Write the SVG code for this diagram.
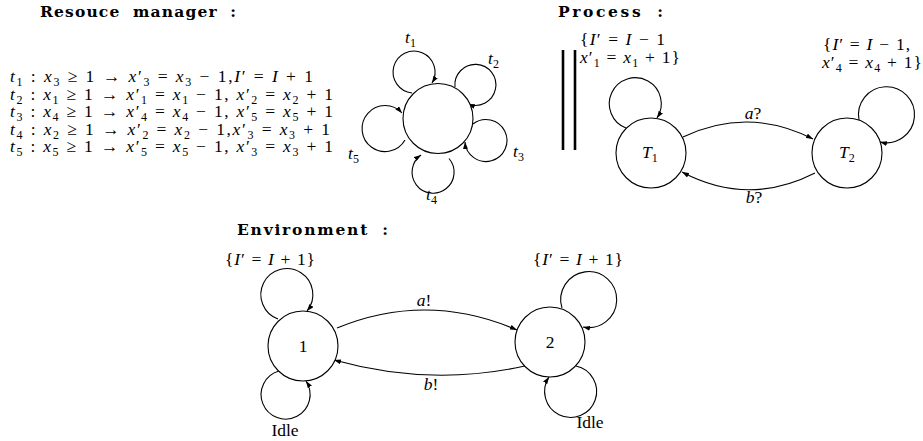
<svg xmlns="http://www.w3.org/2000/svg" width="923" height="441" viewBox="0 0 923 441">
<style>
text { font-family: "Liberation Serif", "DejaVu Serif", serif; fill: #000; }
.m { font-size: 17.5px; word-spacing: 0.5px; }
.t { font-family: "DejaVu Serif", "Liberation Serif", serif; font-size: 15.5px; font-weight: bold; word-spacing: 6px; }
.i { font-style: italic; }
.s { font-size: 12px; }
.n { fill: #fff; stroke: #000; stroke-width: 1.1; }
.e { fill: none; stroke: #000; stroke-width: 1.1; marker-end: url(#ah); }
.bar { stroke: #000; stroke-width: 2.6; }
</style>
<defs>
<marker id="ah" viewBox="0 0 7 5" refX="7" refY="2.5" markerWidth="7" markerHeight="5" markerUnits="userSpaceOnUse" orient="auto">
<path d="M0,0 L7,2.5 L0,5 z" fill="#000"/>
</marker>
</defs>

<!-- titles -->
<g id="titles">
<text class="t" x="40" y="17" textLength="196" lengthAdjust="spacing">Resouce manager :</text>
<text class="t" x="558" y="17" textLength="105" lengthAdjust="spacing">Process :</text>
<text class="t" x="237" y="235" textLength="151" lengthAdjust="spacing">Environment :</text>
</g>

<!-- resource manager equations -->
<g id="equations">
<text class="m" x="10" y="82" textLength="303" lengthAdjust="spacing"><tspan class="i">t</tspan><tspan class="s" dy="4">1</tspan><tspan dy="-4"> : </tspan><tspan class="i">x</tspan><tspan class="s" dy="4">3</tspan><tspan dy="-4"> ≥ 1 → </tspan><tspan class="i">x</tspan>′<tspan class="s" dy="4">3</tspan><tspan dy="-4"> = </tspan><tspan class="i">x</tspan><tspan class="s" dy="4">3</tspan><tspan dy="-4"> − 1,</tspan><tspan class="i">I</tspan>′ = <tspan class="i">I</tspan> + 1</text>
<text class="m" x="10" y="99.5" textLength="323" lengthAdjust="spacing"><tspan class="i">t</tspan><tspan class="s" dy="4">2</tspan><tspan dy="-4"> : </tspan><tspan class="i">x</tspan><tspan class="s" dy="4">1</tspan><tspan dy="-4"> ≥ 1 → </tspan><tspan class="i">x</tspan>′<tspan class="s" dy="4">1</tspan><tspan dy="-4"> = </tspan><tspan class="i">x</tspan><tspan class="s" dy="4">1</tspan><tspan dy="-4"> − 1, </tspan><tspan class="i">x</tspan>′<tspan class="s" dy="4">2</tspan><tspan dy="-4"> = </tspan><tspan class="i">x</tspan><tspan class="s" dy="4">2</tspan><tspan dy="-4"> + 1</tspan></text>
<text class="m" x="10" y="117" textLength="323" lengthAdjust="spacing"><tspan class="i">t</tspan><tspan class="s" dy="4">3</tspan><tspan dy="-4"> : </tspan><tspan class="i">x</tspan><tspan class="s" dy="4">4</tspan><tspan dy="-4"> ≥ 1 → </tspan><tspan class="i">x</tspan>′<tspan class="s" dy="4">4</tspan><tspan dy="-4"> = </tspan><tspan class="i">x</tspan><tspan class="s" dy="4">4</tspan><tspan dy="-4"> − 1, </tspan><tspan class="i">x</tspan>′<tspan class="s" dy="4">5</tspan><tspan dy="-4"> = </tspan><tspan class="i">x</tspan><tspan class="s" dy="4">5</tspan><tspan dy="-4"> + 1</tspan></text>
<text class="m" x="10" y="134.5" textLength="320" lengthAdjust="spacing"><tspan class="i">t</tspan><tspan class="s" dy="4">4</tspan><tspan dy="-4"> : </tspan><tspan class="i">x</tspan><tspan class="s" dy="4">2</tspan><tspan dy="-4"> ≥ 1 → </tspan><tspan class="i">x</tspan>′<tspan class="s" dy="4">2</tspan><tspan dy="-4"> = </tspan><tspan class="i">x</tspan><tspan class="s" dy="4">2</tspan><tspan dy="-4"> − 1,</tspan><tspan class="i">x</tspan>′<tspan class="s" dy="4">3</tspan><tspan dy="-4"> = </tspan><tspan class="i">x</tspan><tspan class="s" dy="4">3</tspan><tspan dy="-4"> + 1</tspan></text>
<text class="m" x="10" y="152" textLength="323" lengthAdjust="spacing"><tspan class="i">t</tspan><tspan class="s" dy="4">5</tspan><tspan dy="-4"> : </tspan><tspan class="i">x</tspan><tspan class="s" dy="4">5</tspan><tspan dy="-4"> ≥ 1 → </tspan><tspan class="i">x</tspan>′<tspan class="s" dy="4">5</tspan><tspan dy="-4"> = </tspan><tspan class="i">x</tspan><tspan class="s" dy="4">5</tspan><tspan dy="-4"> − 1, </tspan><tspan class="i">x</tspan>′<tspan class="s" dy="4">3</tspan><tspan dy="-4"> = </tspan><tspan class="i">x</tspan><tspan class="s" dy="4">3</tspan><tspan dy="-4"> + 1</tspan></text>
</g>

<!-- parallel composition bars -->
<g id="parallel">
<line class="bar" x1="563" y1="50" x2="563" y2="150"/>
<line class="bar" x1="575" y1="50" x2="575" y2="150"/>
</g>

<!-- connectors -->
<g id="connectors">
<path class="e" d="M412,93 A21,21 0 1 1 432,83"/>
<path class="e" d="M455,87 A20.5,20.5 0 1 1 468,104"/>
<path class="e" d="M473,124 A21,21 0 1 1 465,142"/>
<path class="e" d="M449,158.5 A21,21 0 1 1 421,155"/>
<path class="e" d="M405,140 A23,23 0 1 1 402,113"/>
<path class="e" d="M626,128 A26,26 0 1 1 657,118"/>
<path class="e" d="M859,120 A28,28 0 1 1 880,142"/>
<path class="e" d="M683,137 Q748,106 813,139"/>
<path class="e" d="M815,173 Q748,207 682,172"/>
<path class="e" d="M278,319 A26,26 0 1 1 307,311"/>
<path class="e" d="M279,371 A24.5,24.5 0 1 0 306,381"/>
<path class="e" d="M562,308 A28,28 0 1 1 583,327"/>
<path class="e" d="M576,366 A26,26 0 1 1 549,377"/>
<path class="e" d="M337,328 Q427,291 517,330"/>
<path class="e" d="M525,366 Q430,387 334,360"/>
</g>

<!-- connector labels -->
<g id="labels">
<text class="m" x="405" y="43"><tspan class="i">t</tspan><tspan class="s" dy="4">1</tspan></text>
<text class="m" x="488" y="64"><tspan class="i">t</tspan><tspan class="s" dy="4">2</tspan></text>
<text class="m" x="513" y="157"><tspan class="i">t</tspan><tspan class="s" dy="4">3</tspan></text>
<text class="m" x="426" y="200"><tspan class="i">t</tspan><tspan class="s" dy="4">4</tspan></text>
<text class="m" x="348" y="159"><tspan class="i">t</tspan><tspan class="s" dy="4">5</tspan></text>

<text class="m" x="580" y="45" textLength="85" lengthAdjust="spacing">{<tspan class="i">I</tspan>′ = <tspan class="i">I</tspan> − 1</text>
<text class="m" x="580" y="63" textLength="100" lengthAdjust="spacing"><tspan class="i">x</tspan>′<tspan class="s" dy="4">1</tspan><tspan dy="-4"> = </tspan><tspan class="i">x</tspan><tspan class="s" dy="4">1</tspan><tspan dy="-4"> + 1}</tspan></text>
<text class="m" x="823" y="50" textLength="87" lengthAdjust="spacing">{<tspan class="i">I</tspan>′ = <tspan class="i">I</tspan> − 1,</text>
<text class="m" x="822" y="68" textLength="100" lengthAdjust="spacing"><tspan class="i">x</tspan>′<tspan class="s" dy="4">4</tspan><tspan dy="-4"> = </tspan><tspan class="i">x</tspan><tspan class="s" dy="4">4</tspan><tspan dy="-4"> + 1}</tspan></text>
<text class="m i" x="753" y="119" text-anchor="middle">a<tspan font-style="normal">?</tspan></text>
<text class="m i" x="754" y="203" text-anchor="middle">b<tspan font-style="normal">?</tspan></text>

<text class="m" x="225" y="265" textLength="90" lengthAdjust="spacing">{<tspan class="i">I</tspan>′ = <tspan class="i">I</tspan> + 1}</text>
<text class="m" x="533" y="265" textLength="90" lengthAdjust="spacing">{<tspan class="i">I</tspan>′ = <tspan class="i">I</tspan> + 1}</text>
<text class="m i" x="424" y="306" text-anchor="middle">a<tspan font-style="normal">!</tspan></text>
<text class="m i" x="431" y="390" text-anchor="middle">b<tspan font-style="normal">!</tspan></text>
<text class="m" x="285" y="436" text-anchor="middle">Idle</text>
<text class="m" x="590" y="428" text-anchor="middle">Idle</text>
</g>

<!-- nodes -->
<g id="node-rm">
<circle class="n" cx="438" cy="118.5" r="35"/>
</g>
<g id="node-T1">
<circle class="n" cx="651" cy="153" r="35"/>
<text class="m" x="642" y="158"><tspan class="i">T</tspan><tspan class="s" dy="4">1</tspan></text>
</g>
<g id="node-T2">
<circle class="n" cx="847" cy="153" r="35"/>
<text class="m" x="839" y="158"><tspan class="i">T</tspan><tspan class="s" dy="4">2</tspan></text>
</g>
<g id="node-1">
<circle class="n" cx="303" cy="346" r="35"/>
<text class="m" x="303" y="352" text-anchor="middle">1</text>
</g>
<g id="node-2">
<circle class="n" cx="550" cy="342" r="35"/>
<text class="m" x="550" y="348" text-anchor="middle">2</text>
</g>
</svg>
